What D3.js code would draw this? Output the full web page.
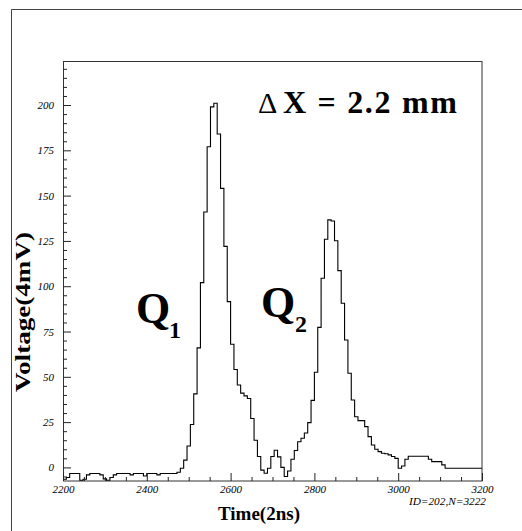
<!DOCTYPE html>
<html>
<head>
<meta charset="utf-8">
<script src="https://cdn.jsdelivr.net/npm/d3@7"></script>
<style>
  html, body { margin: 0; padding: 0; background: #fff; }
  svg { display: block; }
</style>
</head>
<body>
<svg id="chart" width="522" height="531"></svg>
<script>
// ---------------- data ----------------
const binStartTime = 2200;   // first bin left edge (2ns units)
const binWidth = 8;          // bin width (2ns units)
const voltage = [
  -6.5, -5.6, -3.4, -3.4, -3.4, -7.1, -6.5, -4.1, -3.4, -3.4,
  -3.4, -4.1, -6.3, -7.1, -5.6, -4.1, -3.4, -3.4, -3.4, -3.4,
  -4.1, -3.4, -3.4, -3.4, -4.7, -3.4, -3.4, -3.4, -4.1, -3.4,
  -3.4, -3.4, -3.4, -3.4, -2.7, -0.5, 4, 11.8, 23.7, 40.6,
  66, 102, 141, 177, 199, 201, 184, 154, 122, 91.5,
  68, 54, 45.5, 41, 39.5, 38, 27, 15, 6, -1.5,
  -3.2, -0.5, 6, 9.5, 5.8, 0, -5, -2, 4.5, 9.3,
  14.2, 16.1, 19, 24.7, 37, 52.5, 77.3, 104.4, 125.9, 136.6,
  136, 125.1, 108.6, 90.6, 70.3, 52, 37.2, 28, 25.8, 25.8,
  22.5, 17, 12.4, 10, 8.7, 7.8, 7.5, 6.9, 6, 5,
  -0.5, 0.8, 4.5, 6.2, 6.2, 6.2, 6.2, 6.2, 6.2, 4.5,
  3.2, 3.2, 3.2, 1.4, -0.5, -0.5, -0.5, -0.5, -0.5, -0.5,
  -0.5, -0.5, -0.5, -0.5, -0.5
];
const xDomain = [2200, 3200];
const yDomain = [-7.5, 224.3];
const xMajorTicks = [2200, 2400, 2600, 2800, 3000, 3200];
const xMinorStep = 50;
const yMajorTicks = [0, 25, 50, 75, 100, 125, 150, 175, 200];
const yMinorStep = 5;
const xTitle = "Time(2ns)";
const yTitle = "Voltage(4mV)";
const infoText = "ID=202,N=3222";
const deltaLabel = "X = 2.2 mm";

// ---------------- layout ----------------
const svg = d3.select("#chart");
const L = 63, R = 482, T = 61, B = 481;
const x = d3.scaleLinear().domain(xDomain).range([L, R]);
const y = d3.scaleLinear().domain(yDomain).range([B, T]);
const serif = "'Liberation Serif','Times New Roman',Times,serif";

// outer frame
svg.append("path")
  .attr("d", "M11.5,531 L11.5,9.5 L522,9.5")
  .attr("fill", "none").attr("stroke", "#444").attr("stroke-width", 1);

// plot frame
svg.append("rect")
  .attr("x", L + 0.5).attr("y", T + 0.5)
  .attr("width", R - L - 0.5).attr("height", B - T - 0.5)
  .attr("fill", "none").attr("stroke", "#333").attr("stroke-width", 1);

// histogram
const pts = voltage.map((v, i) => [binStartTime + i * binWidth, v]);
pts.push([binStartTime + voltage.length * binWidth, voltage[voltage.length - 1]]);
const line = d3.line().x(d => x(d[0])).y(d => y(d[1])).curve(d3.curveStepAfter);
svg.append("path")
  .attr("d", line(pts))
  .attr("fill", "none").attr("stroke", "#000").attr("stroke-width", 1.1);

// axes
function styleAxis(g) {
  g.select(".domain").remove();
  g.selectAll("line").attr("stroke", "#222").attr("stroke-width", 1);
}
const xMinor = d3.range(xDomain[0], xDomain[1] + 1, xMinorStep).filter(t => !xMajorTicks.includes(t));
svg.append("g").attr("transform", `translate(0,${B})`)
  .call(d3.axisBottom(x).tickValues(xMinor).tickSize(-4).tickFormat(""))
  .call(styleAxis);
svg.append("g").attr("transform", `translate(0,${B})`)
  .call(d3.axisBottom(x).tickValues(xMajorTicks).tickSize(-8).tickPadding(4).tickFormat(d3.format("d")))
  .call(styleAxis)
  .call(g => g.selectAll("text")
    .attr("font-family", serif).attr("font-style", "italic")
    .attr("font-size", 11).attr("fill", "#000"));

const yMinor = d3.range(-5, 224, yMinorStep).filter(t => !yMajorTicks.includes(t));
svg.append("g").attr("transform", `translate(${L},0)`)
  .call(d3.axisLeft(y).tickValues(yMinor).tickSize(-4).tickFormat(""))
  .call(styleAxis);
svg.append("g").attr("transform", `translate(${L},0)`)
  .call(d3.axisLeft(y).tickValues(yMajorTicks).tickSize(-8).tickPadding(9).tickFormat(d3.format("d")))
  .call(styleAxis)
  .call(g => g.selectAll("text")
    .attr("font-family", serif).attr("font-style", "italic")
    .attr("font-size", 11).attr("fill", "#000"));

// titles
svg.append("text")
  .attr("x", 259).attr("y", 520)
  .attr("text-anchor", "middle")
  .attr("font-family", serif).attr("font-weight", "bold").attr("font-size", 19)
  .text(xTitle);

svg.append("text")
  .attr("transform", "translate(30,312) rotate(-90)")
  .attr("text-anchor", "middle")
  .attr("font-family", serif).attr("font-weight", "bold").attr("font-size", 20)
  .attr("textLength", 160).attr("lengthAdjust", "spacingAndGlyphs")
  .text(yTitle);

svg.append("text")
  .attr("x", 486).attr("y", 504.5)
  .attr("text-anchor", "end")
  .attr("font-family", serif).attr("font-style", "italic").attr("font-size", 11.3)
  .text(infoText);

// annotation Delta X
svg.append("text")
  .attr("x", 258).attr("y", 113)
  .attr("font-family", serif).attr("font-size", 30)
  .text("\u0394");
svg.append("text")
  .attr("x", 283).attr("y", 113)
  .attr("font-family", serif).attr("font-weight", "bold").attr("font-size", 32)
  .attr("xml:space", "preserve")
  .attr("textLength", 174).attr("lengthAdjust", "spacing")
  .text(deltaLabel);

// Q labels
function qLabel(xq, yq, sub, xs, ys) {
  svg.append("text").attr("x", xq).attr("y", yq)
    .attr("font-family", serif).attr("font-weight", "bold").attr("font-size", 44)
    .text("Q");
  svg.append("text").attr("x", xs).attr("y", ys)
    .attr("font-family", serif).attr("font-weight", "bold").attr("font-size", 24)
    .text(sub);
}
qLabel(136, 323, "1", 169, 338);
qLabel(261, 317, "2", 295, 332);
</script>
</body>
</html>
